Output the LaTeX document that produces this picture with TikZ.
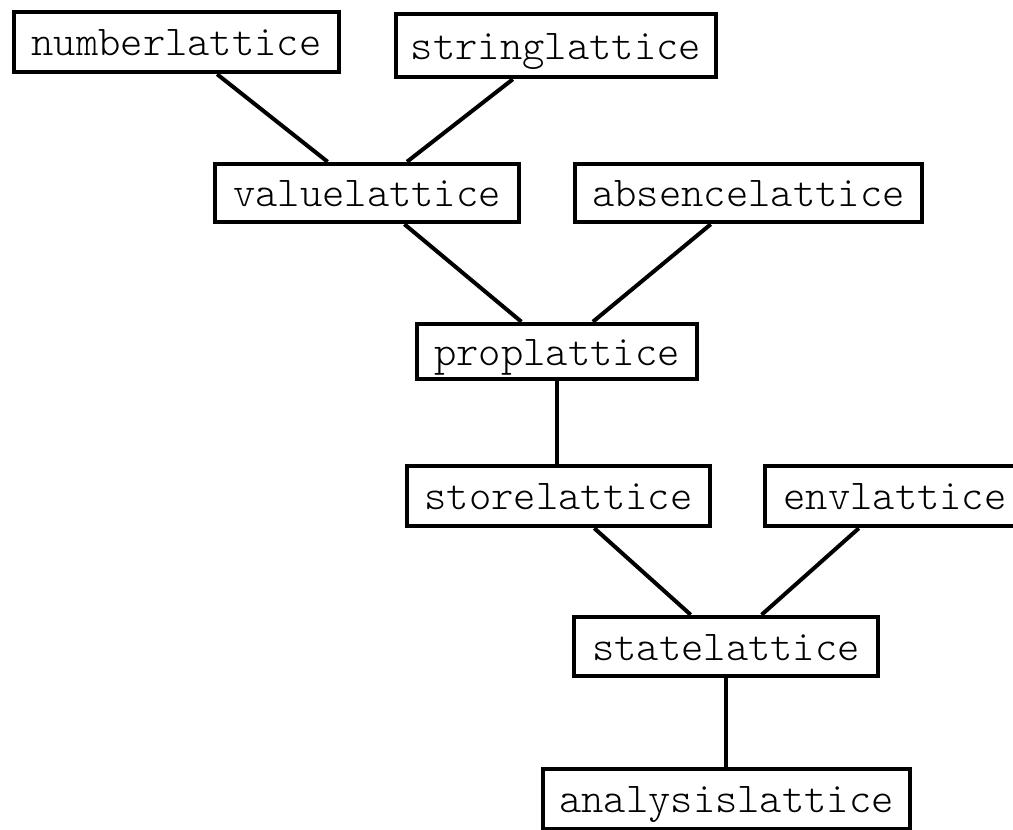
\documentclass[tikz,border=0pt]{standalone}
\usepackage{fontspec}
\setmonofont{Latin Modern Mono Light}
\begin{document}
\begin{tikzpicture}[x=1pt,y=1pt,
  latbox/.style={draw, line width=4.5pt, inner sep=0pt, fill=white,
    font=\ttfamily\fontsize{42.5}{44}\selectfont,
    text height=31pt, text depth=4pt, minimum height=60pt},
  link/.style={line width=4pt}]
\useasboundingbox[fill=white] (0,0) rectangle (1013,-830);
\clip (0,0) rectangle (1013,-830);
\node[latbox, minimum width=325pt, minimum height=60pt] (number) at (176.5,-42) {numberlattice};
\node[latbox, minimum width=320pt, minimum height=63pt] (string) at (556,-45.5) {stringlattice};
\node[latbox, minimum width=304pt, minimum height=58pt] (value) at (367,-193) {valuelattice};
\node[latbox, minimum width=347pt, minimum height=58pt] (absence) at (748.5,-193) {absencelattice};
\node[latbox, minimum width=280pt, minimum height=55pt] (prop) at (557,-351.5) {proplattice};
\node[latbox, minimum width=303pt, minimum height=60pt] (store) at (558.5,-496) {storelattice};
\node[latbox, minimum width=260pt, minimum height=60pt] (env) at (895,-496) {envlattice};
\node[latbox, minimum width=304pt, minimum height=59pt] (state) at (726,-646.5) {statelattice};
\node[latbox, minimum width=367pt, minimum height=60pt] (analysis) at (726.5,-799) {analysislattice};
\draw[link] (number) -- (value);
\draw[link] (string) -- (value);
\draw[link] (value) -- (prop);
\draw[link] (absence) -- (prop);
\draw[link] (prop.south) -- (prop.south |- store.north);
\draw[link] (store) -- (state);
\draw[link] (env) -- (state);
\draw[link] (state.south) -- (state.south |- analysis.north);
\end{tikzpicture}
\end{document}
